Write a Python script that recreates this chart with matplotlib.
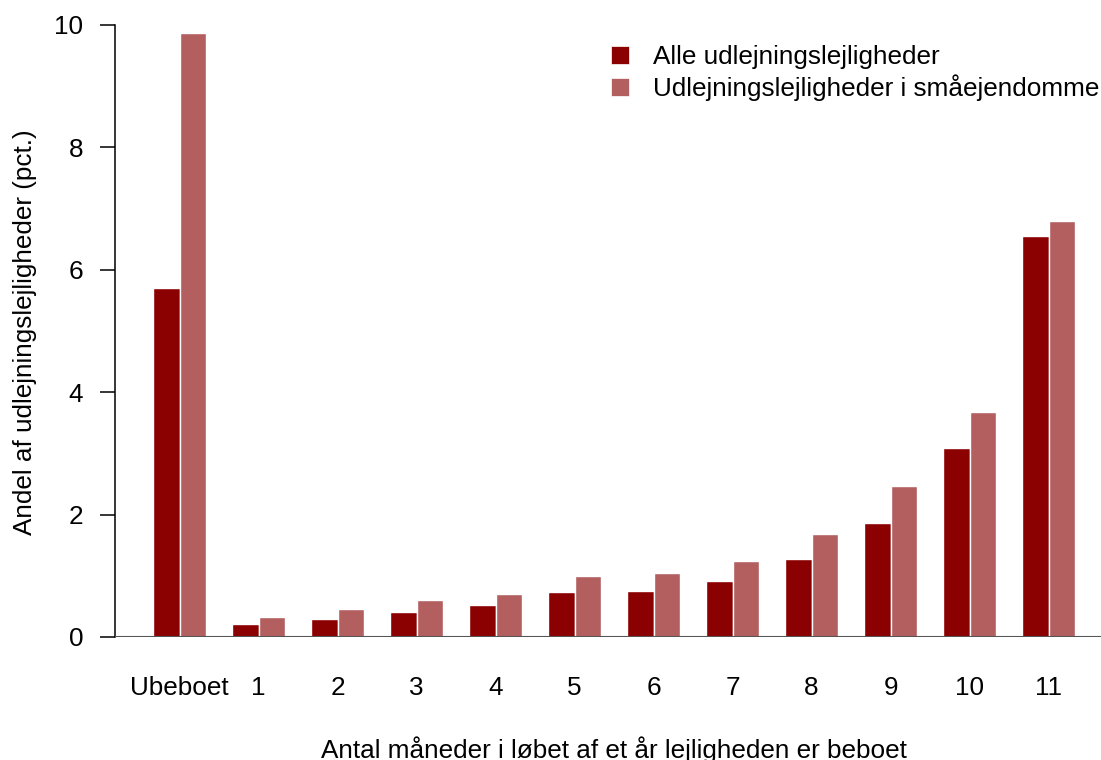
import matplotlib.pyplot as plt
import numpy as np
from matplotlib.patches import Patch

plt.rcParams['font.family'] = ['Liberation Sans', 'DejaVu Sans']

# Andel af udlejningslejligheder (pct.) efter antal beboede måneder
kategorier = ['Ubeboet', '1', '2', '3', '4', '5', '6', '7', '8', '9', '10', '11']
alle = [5.70, 0.22, 0.30, 0.41, 0.52, 0.73, 0.75, 0.92, 1.28, 1.87, 3.09, 6.55]
smaa = [9.87, 0.33, 0.45, 0.61, 0.70, 1.00, 1.04, 1.25, 1.69, 2.46, 3.67, 6.80]
serier = ['Alle udlejningslejligheder', 'Udlejningslejligheder i småejendomme']
farver = ['#8B0000', '#B35F5F']

fs = 18.8
W, H = 1101, 760
fig = plt.figure(figsize=(W / 100, H / 100), dpi=100)
ax = fig.add_axes([115 / W, 1 - 637 / H, 1 - 115 / W, (637 - 25) / H])

x = np.arange(len(kategorier))
b = 1 / 3
ax.bar(x - b / 2, alle, width=b, color=farver[0], edgecolor='white', linewidth=1)
ax.bar(x + b / 2, smaa, width=b, color=farver[1], edgecolor='white', linewidth=1)
ax.axhline(0, color='#555555', linewidth=1.5, zorder=3)

ax.set_xlim(-0.818, 11.663)
ax.set_ylim(0, 10)

for side in ['top', 'right', 'bottom']:
    ax.spines[side].set_visible(False)
ax.spines['left'].set_bounds(0, 10)
ax.spines['left'].set_linewidth(1.1)

ax.set_yticks([0, 2, 4, 6, 8, 10])
ax.tick_params(axis='y', length=10.8, width=1.1, pad=12, labelsize=fs)
ax.set_xticks(x)
ax.set_xticklabels(kategorier)
ax.tick_params(axis='x', length=0, pad=28, labelsize=fs)

fig.text(25 / W, 1 - 332 / H, 'Andel af udlejningslejligheder (pct.)',
         rotation=90, ha='center', va='center', fontsize=fs)
fig.text(614 / W, 1 - 758 / H, 'Antal måneder i løbet af et år lejligheden er beboet',
         ha='center', va='baseline', fontsize=fs)

handles = [Patch(facecolor=c, edgecolor='white', linewidth=0.5) for c in farver]
fig.legend(handles, serier, loc='upper left', bbox_to_anchor=(611 / W, 1 - 45 / H),
           frameon=False, fontsize=fs, borderpad=0, borderaxespad=0,
           handlelength=0.7, handleheight=0.7, handletextpad=0.9, labelspacing=0.22)

fig.savefig('out.png', dpi=100)
